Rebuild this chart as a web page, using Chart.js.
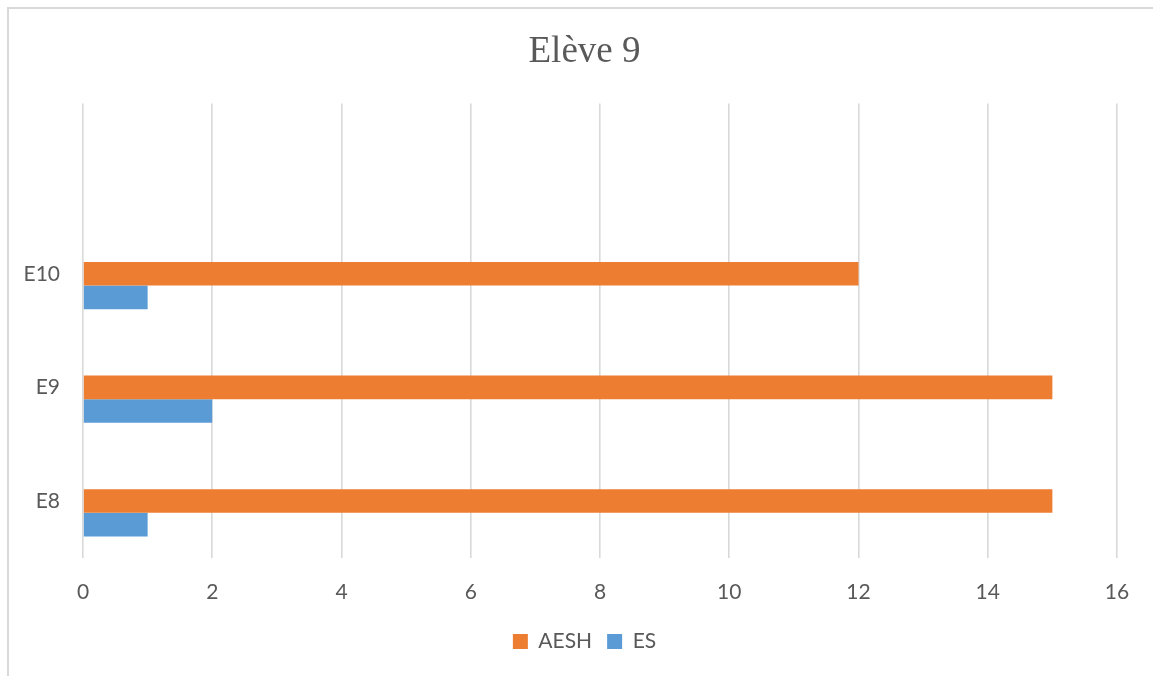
<!DOCTYPE html>
<html>
<head>
<meta charset="utf-8">
<script src="https://cdn.jsdelivr.net/npm/chart.js@4.4.0/dist/chart.umd.min.js"></script>
<style>
  html, body { margin: 0; padding: 0; background: #fff; }
  #wrap { width: 1153px; height: 676px; position: relative; }
</style>
</head>
<body>
<div id="wrap"><canvas id="myChart" width="1153" height="676"></canvas></div>
<script>
// Categories listed top to bottom (first slot left blank)
const categories = ['', 'E10', 'E9', 'E8'];
const aeshValues = [null, 12, 15, 15];
const esValues = [null, 1, 2, 1];
const emptyValues = [null, null, null, null];
const xTicks = [0, 2, 4, 6, 8, 10, 12, 14, 16];

const textColor = '#595959';
const sansFont = 'Lato, "Open Sans", sans-serif';

// White background plus the thin outer frame
const framePlugin = {
    id: 'frame',
    beforeDraw(chart) {
        const c = chart.ctx;
        c.save();
        c.fillStyle = '#ffffff';
        c.fillRect(0, 0, chart.width, chart.height);
        c.strokeStyle = '#d9d9d9';
        c.lineWidth = 2;
        c.beginPath();
        c.moveTo(8, chart.height);
        c.lineTo(8, 8);
        c.lineTo(chart.width, 8);
        c.stroke();
        c.restore();
    }
};

const ctx = document.getElementById('myChart').getContext('2d');
const chart = new Chart(ctx, {
    type: 'bar',
    data: {
        labels: categories,
        datasets: [
            { label: '', data: emptyValues, backgroundColor: 'rgba(0,0,0,0)' },
            { label: 'AESH', data: aeshValues, backgroundColor: '#ED7D31' },
            { label: 'ES', data: esValues, backgroundColor: '#5B9BD5' }
        ]
    },
    plugins: [framePlugin],
    options: {
        indexAxis: 'y',
        responsive: false,
        animation: false,
        categoryPercentage: 0.624,
        barPercentage: 1,
        layout: { padding: { left: 16, right: 0, top: 0, bottom: 14 } },
        plugins: {
            title: {
                display: true,
                text: 'Elève 9',
                color: textColor,
                font: { family: '"Liberation Serif", "Times New Roman", serif', size: 37, weight: 'normal' },
                padding: { top: 30, bottom: 29 }
            },
            legend: {
                position: 'bottom',
                labels: {
                    color: textColor,
                    font: { family: sansFont, size: 21 },
                    boxWidth: 15,
                    boxHeight: 15,
                    padding: 15,
                    filter: item => item.text !== ''
                }
            },
            tooltip: { enabled: false }
        },
        scales: {
            x: {
                min: 0,
                max: 16,
                afterBuildTicks: scale => {
                    scale.ticks = xTicks.map(v => ({ value: v }));
                },
                afterFit: scale => {
                    scale.paddingRight = 36;
                    scale.height -= 11;
                },
                grid: { color: '#d9d9d9', lineWidth: 1.6, drawTicks: false },
                border: { display: false },
                ticks: { color: textColor, font: { family: sansFont, size: 21 }, padding: 22 }
            },
            y: {
                grid: { display: false, drawTicks: false },
                border: { display: false },
                afterFit: scale => { scale.width = 67; },
                ticks: { color: textColor, font: { family: sansFont, size: 21 }, padding: 23 }
            }
        }
    }
});
</script>
</body>
</html>
